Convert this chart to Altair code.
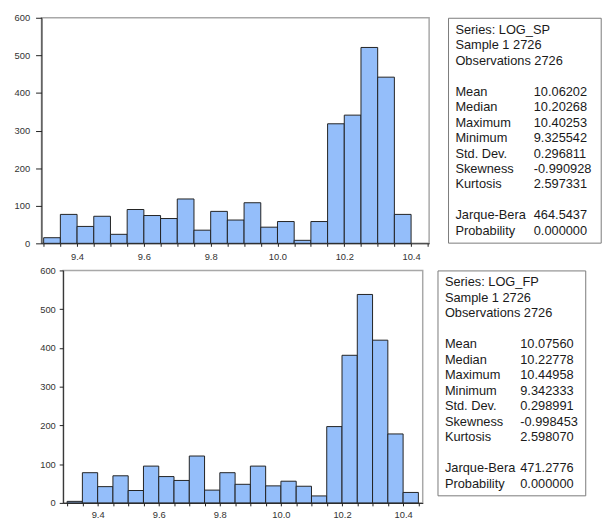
import altair as alt
import pandas as pd

# ---------------- data ----------------
sp_bin_start = [9.30, 9.35, 9.40, 9.45, 9.50, 9.55, 9.60, 9.65, 9.70, 9.75, 9.80,
                9.85, 9.90, 9.95, 10.00, 10.05, 10.10, 10.15, 10.20, 10.25, 10.30, 10.35]
sp_bin_end = [9.35, 9.40, 9.45, 9.50, 9.55, 9.60, 9.65, 9.70, 9.75, 9.80, 9.85,
              9.90, 9.95, 10.00, 10.05, 10.10, 10.15, 10.20, 10.25, 10.30, 10.35, 10.40]
sp_counts = [15, 77, 45, 72, 24, 90, 74, 66, 118, 35, 85,
             62, 108, 43, 58, 8, 58, 318, 341, 521, 442, 77]

fp_bin_start = [9.30, 9.35, 9.40, 9.45, 9.50, 9.55, 9.60, 9.65, 9.70, 9.75, 9.80, 9.85,
                9.90, 9.95, 10.00, 10.05, 10.10, 10.15, 10.20, 10.25, 10.30, 10.35, 10.40]
fp_bin_end = [9.35, 9.40, 9.45, 9.50, 9.55, 9.60, 9.65, 9.70, 9.75, 9.80, 9.85, 9.90,
              9.95, 10.00, 10.05, 10.10, 10.15, 10.20, 10.25, 10.30, 10.35, 10.40, 10.45]
fp_counts = [4, 78, 42, 70, 32, 95, 68, 58, 121, 33, 78, 48,
             95, 44, 56, 43, 18, 197, 381, 538, 420, 178, 27]

x_tick_values = [9.30, 9.35, 9.40, 9.45, 9.50, 9.55, 9.60, 9.65, 9.70, 9.75, 9.80, 9.85,
                 9.90, 9.95, 10.00, 10.05, 10.10, 10.15, 10.20, 10.25, 10.30, 10.35, 10.40, 10.45]
y_tick_values = [0, 100, 200, 300, 400, 500, 600]

stat_labels = ["Series: {}", "Sample 1 2726", "Observations 2726", "",
               "Mean", "Median", "Maximum", "Minimum", "Std. Dev.", "Skewness", "Kurtosis", "",
               "Jarque-Bera", "Probability"]
sp_values = ["", "", "", "", "10.06202", "10.20268", "10.40253", "9.325542", "0.296811",
             "-0.990928", "2.597331", "", "464.5437", "0.000000"]
fp_values = ["", "", "", "", "10.07560", "10.22778", "10.44958", "9.342333", "0.298991",
             "-0.998453", "2.598070", "", "471.2776", "0.000000"]

# ---------------- style ----------------
FONT = "Liberation Sans"
BAR = "#94BEFA"
EDGE = "#222222"
FRAME = "#A8A8A8"
BOX = "#7A7A7A"

LABEL_EXPR = ("abs(datum.value*5 - round(datum.value*5)) < 0.001 ? "
              "format(datum.value, '.1f') : ''")


def histogram(starts, ends, counts, xdom, w, h, ytick, ypad, xpad):
    df = pd.DataFrame({"start": starts, "end": ends, "count": counts})
    return alt.Chart(df).mark_rect(fill=BAR, stroke=EDGE, strokeWidth=1).encode(
        x=alt.X("start:Q",
                scale=alt.Scale(domain=xdom, nice=False, zero=False),
                axis=alt.Axis(values=x_tick_values, labelExpr=LABEL_EXPR, title=None,
                              grid=False, tickSize=3, labelPadding=xpad,
                              labelFlush=False, labelOverlap=False)),
        x2="end:Q",
        y=alt.Y("count:Q",
                scale=alt.Scale(domain=[0, 600], nice=False),
                axis=alt.Axis(values=y_tick_values, title=None, grid=False,
                              tickSize=ytick, labelPadding=ypad)),
        y2=alt.datum(0),
    ).properties(width=w, height=h,
                 view=alt.ViewBackground(stroke=FRAME, strokeWidth=1.5))


def stat_box(series, values, w, h, val_x):
    labels = [s.format(series) if i == 0 else s for i, s in enumerate(stat_labels)]
    df = pd.DataFrame({"line": list(range(len(labels))), "label": labels, "value": values})
    spacing = 15.7
    d0 = -12.3 / spacing
    d1 = d0 + h / spacing
    ysc = alt.Scale(domain=[d0, d1], reverse=True, nice=False, zero=False)
    base = alt.Chart(df).encode(y=alt.Y("line:Q", scale=ysc, axis=None))
    lab = base.mark_text(align="left", baseline="middle", font=FONT, fontSize=13,
                         color="#1a1a1a").encode(x=alt.value(7.5), text="label:N")
    val = base.mark_text(align="left", baseline="middle", font=FONT, fontSize=13,
                         color="#1a1a1a").encode(x=alt.value(val_x), text="value:N")
    return alt.layer(lab, val).properties(
        width=w, height=h, view=alt.ViewBackground(stroke=BOX, strokeWidth=1))


top_hist = histogram(sp_bin_start, sp_bin_end, sp_counts, [9.2935, 10.454], 393.5, 229, 6, 6, 5)
top_box = stat_box("LOG_SP", sp_values, 155, 228.3, 87)

bot_hist = histogram(fp_bin_start, fp_bin_end, fp_counts, [9.2871, 10.4642], 365, 236, 4, 4, 4)
bot_box = stat_box("LOG_FP", fp_values, 150, 228.3, 84)

spacer = alt.Chart(pd.DataFrame({"v": [0]})).mark_point(opacity=0).encode(
    x=alt.value(3), y=alt.value(5)
).properties(width=6.2, height=10, view=alt.ViewBackground(strokeOpacity=0))

top_row = alt.hconcat(top_hist, top_box, spacing=18.7, bounds="flush")
bot_row = alt.hconcat(spacer, bot_hist, bot_box, spacing=15, bounds="flush")

chart = alt.vconcat(top_row, bot_row, spacing=2.5, bounds="full").properties(
    padding={"left": 5, "top": 0, "right": 0, "bottom": 0}
).configure_axis(
    labelFont=FONT, labelFontSize=9.5, labelColor="#333333",
    domainColor="#222222", tickColor="#222222", domainWidth=1
)

chart.save("out.html", embed_options={"renderer": "svg", "actions": False})
